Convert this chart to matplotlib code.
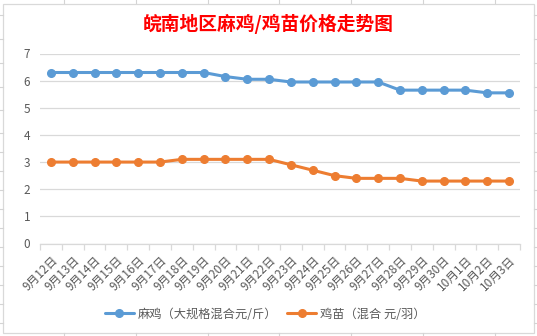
import numpy as np
import matplotlib.pyplot as plt
from matplotlib.lines import Line2D
from matplotlib.patches import Rectangle

plt.rcParams['font.family'] = ['Noto Sans CJK SC', 'DejaVu Sans']

dates = ["9月12日", "9月13日", "9月14日", "9月15日", "9月16日", "9月17日", "9月18日",
         "9月19日", "9月20日", "9月21日", "9月22日", "9月23日", "9月24日", "9月25日",
         "9月26日", "9月27日", "9月28日", "9月29日", "9月30日", "10月1日", "10月2日", "10月3日"]
maji = [6.3, 6.3, 6.3, 6.3, 6.3, 6.3, 6.3, 6.3, 6.15, 6.05, 6.05,
        5.95, 5.95, 5.95, 5.95, 5.95, 5.65, 5.65, 5.65, 5.65, 5.55, 5.55]
jimiao = [3.0, 3.0, 3.0, 3.0, 3.0, 3.0, 3.1, 3.1, 3.1, 3.1, 3.1,
          2.9, 2.7, 2.5, 2.4, 2.4, 2.4, 2.3, 2.3, 2.3, 2.3, 2.3]
names = ["麻鸡（大规格混合元/斤）", "鸡苗（混合 元/羽）"]
colors = ["#5B9BD5", "#ED7D31"]

W, H = 537, 336
fig = plt.figure(figsize=(W / 100, H / 100), dpi=100)

# sheet gridline stubs around the chart
grid_c = "#d4d4d4"
for xc in [64, 136, 208, 279, 351, 423, 495]:
    fig.add_artist(Line2D([xc / W, xc / W], [1, 1 - 3 / H], color=grid_c, lw=0.8))
    fig.add_artist(Line2D([xc / W, xc / W], [0, 3 / H], color=grid_c, lw=0.8))
for yc in [15, 39, 63, 87, 110, 133, 152, 171, 190, 209, 228, 247, 266, 285, 304, 323]:
    fig.add_artist(Line2D([0, 2.5 / W], [1 - yc / H] * 2, color=grid_c, lw=0.8))
    fig.add_artist(Line2D([1 - 3 / W, 1], [1 - yc / H] * 2, color=grid_c, lw=0.8))

# chart border
fig.add_artist(Rectangle((2.5 / W, 3 / H), (534 - 2.5) / W, (333 - 3.5) / H,
                         transform=fig.transFigure, fill=False, ec="#d9d9d9", lw=0.9))

ax = fig.add_axes([40 / W, 1 - 243.5 / H, 480 / W, (243.5 - 53.5) / H])
x = np.arange(len(dates))
for vals, name, c in zip([maji, jimiao], names, colors):
    ax.plot(x, vals, color=c, lw=2.2, marker="o", ms=5.5, label=name,
            solid_capstyle="round")

ax.set_xlim(-0.5, len(dates) - 0.5)
ax.set_ylim(0, 7)
ax.set_yticks(range(0, 8))
ax.grid(axis="y", color="#d9d9d9", lw=0.9)
ax.set_axisbelow(True)
for s in ["top", "right", "left"]:
    ax.spines[s].set_visible(False)
ax.spines["bottom"].set_color("#d9d9d9")
ax.spines["bottom"].set_linewidth(0.9)

ax.set_xticks(x)
ax.set_xticks(np.arange(-0.5, len(dates), 1), minor=True)
ax.tick_params(axis="x", which="major", length=0, pad=7)
ax.tick_params(axis="x", which="minor", length=4, color="#d9d9d9", width=0.9)
ax.tick_params(axis="y", length=0, pad=7, labelsize=8.5, labelcolor="#595959")
ax.set_xticklabels(dates, rotation=45, ha="right", va="top", rotation_mode="anchor",
                   fontsize=8.5, color="#595959")

fig.text(268 / W, 1 - 24 / H, "皖南地区麻鸡/鸡苗价格走势图", color="#FF0000",
         fontsize=13.5, fontweight="bold", ha="center", va="center")

fig.legend(loc="center", bbox_to_anchor=(265 / W, 1 - 314 / H), ncol=2, frameon=False,
           fontsize=8.8, labelcolor="#595959", handlelength=2.4, handletextpad=0.3,
           columnspacing=0.8)

fig.savefig("out.png", dpi=100)
